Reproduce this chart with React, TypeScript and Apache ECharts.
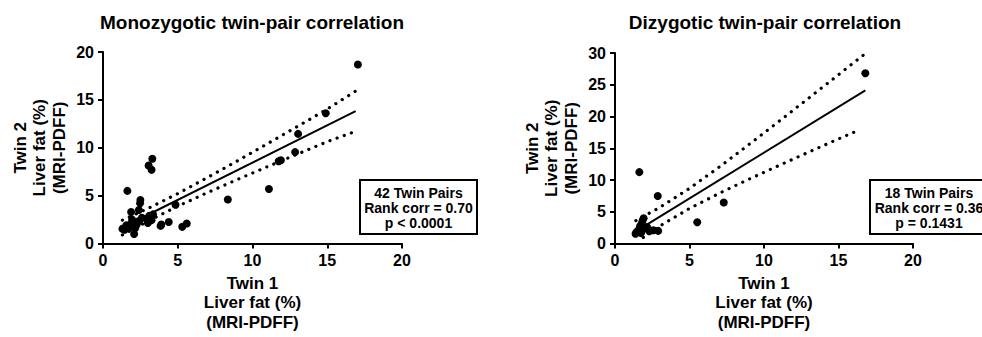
import React, { useEffect, useRef } from "react";
import * as echarts from "echarts";

// Monozygotic twin pairs (Twin 1 vs Twin 2 liver fat, %)
const mzTwin1 = [17.05, 14.9, 13.05, 12.85, 11.75, 11.9, 11.1, 8.35, 3.3, 3.05, 3.25, 1.63, 2.5, 2.48, 4.85, 2.4, 1.88, 3.35, 3.1, 3.25, 3.0, 3.85, 3.9, 4.4, 5.3, 5.6, 2.08, 1.3, 1.45, 1.6, 1.75, 1.85, 2.0, 2.1, 2.25, 2.4, 1.95, 2.6, 2.9, 1.55, 2.15, 3.2];
const mzTwin2 = [18.7, 13.6, 11.45, 9.55, 8.6, 8.7, 5.7, 4.6, 8.85, 8.15, 7.7, 5.5, 4.55, 4.2, 4.05, 3.5, 3.3, 3.05, 2.9, 2.45, 2.15, 1.85, 2.0, 2.25, 1.75, 2.1, 1.0, 1.55, 1.45, 1.8, 1.65, 2.05, 1.85, 2.2, 2.0, 2.35, 2.5, 2.7, 2.6, 1.9, 1.6, 2.8];
const mzFitX = [1.3, 16.9];
const mzFitY = [1.68, 13.82];
const mzBandX = [1.3, 3, 5, 7, 9, 11, 13, 15, 16.9];
const mzBandUpper = [2.45, 3.66, 5.22, 6.91, 8.64, 10.43, 12.22, 14.04, 15.92];
const mzBandLower = [0.91, 2.34, 3.9, 5.33, 6.7, 8.03, 9.34, 10.64, 11.72];

// Dizygotic twin pairs
const dzTwin1 = [16.8, 1.63, 2.87, 7.3, 5.52, 1.92, 1.85, 1.78, 1.68, 1.6, 1.45, 1.38, 2.0, 2.3, 2.57, 2.9, 1.75, 2.15];
const dzTwin2 = [26.8, 11.25, 7.48, 6.48, 3.36, 4.0, 3.6, 3.1, 2.75, 2.2, 1.85, 1.55, 2.4, 1.95, 2.1, 2.0, 1.65, 2.6];
const dzFitX = [1.4, 16.8];
const dzFitY = [1.92, 24.13];
const dzBandUpperX = [1.4, 3, 5, 7, 9, 11, 13, 15, 16.8];
const dzBandUpper = [3.62, 5.69, 8.69, 12.06, 15.61, 19.23, 22.9, 26.58, 29.91];
const dzBandLowerX = [1.9, 3, 5, 7, 9, 11, 13, 15, 16.4];
const dzBandLower = [0.95, 2.77, 5.53, 7.92, 10.15, 12.29, 14.4, 16.48, 17.9];

const titles = ["Monozygotic twin-pair correlation", "Dizygotic twin-pair correlation"];
const xName = "Twin 1\nLiver fat (%)\n(MRI-PDFF)";
const yName = "Twin 2\nLiver fat (%)\n(MRI-PDFF)";
const boxTexts = ["42 Twin Pairs\nRank corr = 0.70\np < 0.0001", "18 Twin Pairs\nRank corr = 0.36\np = 0.1431"];
const xTicks = { min: 0, max: 20, interval: 5 };
const yTicksMZ = { min: 0, max: 20, interval: 5 };
const yTicksDZ = { min: 0, max: 30, interval: 5 };

const FONT = "'Liberation Sans', Arial, Helvetica, sans-serif";

const zip = (xs: number[], ys: number[]) => xs.map((x, i) => [x, ys[i]]);

export default function App() {
  const ref = useRef<HTMLDivElement>(null);
  useEffect(() => {
    if (!ref.current) return;
    const chart = echarts.init(ref.current, null, { renderer: "svg" });

    const axisCommon = {
      type: "value" as const,
      splitLine: { show: false },
      axisLine: { show: true, lineStyle: { color: "#000", width: 2 } },
      axisTick: { show: true, length: 5, lineStyle: { color: "#000", width: 2 } },
      axisLabel: { color: "#000", fontSize: 16, fontWeight: "bold", fontFamily: FONT, margin: 9 },
      nameLocation: "middle" as const,
      nameTextStyle: { color: "#000", fontSize: 17, fontWeight: "bold", fontFamily: FONT, lineHeight: 19.5 },
    };

    const xAxisFor = (gi: number) => ({
      ...axisCommon,
      gridIndex: gi,
      ...xTicks,
      name: xName,
      nameGap: 27,
    });
    const yAxisFor = (gi: number, t: { min: number; max: number; interval: number }) => ({
      ...axisCommon,
      gridIndex: gi,
      ...t,
      name: yName,
      nameGap: 34,
      nameRotate: 90,
    });

    const dotted = { color: "#000", width: 3.2, type: [0.1, 7.5], cap: "round" };
    const solid = { color: "#000", width: 2 };

    const lineSeries = (name: string, gi: number, data: number[][], style: any) => ({
      name,
      type: "line" as const,
      xAxisIndex: gi,
      yAxisIndex: gi,
      data,
      showSymbol: false,
      symbol: "none",
      lineStyle: style,
      silent: true,
      z: 1,
    });

    const scatter = (name: string, gi: number, data: number[][]) => ({
      name,
      type: "scatter" as const,
      xAxisIndex: gi,
      yAxisIndex: gi,
      data,
      symbol: "circle",
      symbolSize: 8,
      itemStyle: { color: "#000", opacity: 1 },
      z: 3,
    });

    const box = (x: number, w: number, text: string) => ({
      type: "group",
      children: [
        {
          type: "rect",
          shape: { x, y: 180, width: w, height: 54 },
          style: { fill: "#fff", stroke: "#000", lineWidth: 2 },
        },
        {
          type: "text",
          x: x + w / 2,
          y: 207.5,
          style: {
            text,
            fill: "#000",
            fontSize: 14,
            fontWeight: "bold",
            fontFamily: FONT,
            lineHeight: 15,
            align: "center",
            verticalAlign: "middle",
          },
        },
      ],
    });

    const titleText = (x: number, text: string) => ({
      type: "text",
      x,
      y: 22,
      style: {
        text,
        fill: "#000",
        fontSize: 19,
        fontWeight: "bold",
        fontFamily: FONT,
        align: "center",
        verticalAlign: "middle",
      },
    });

    chart.setOption({
      animation: false,
      backgroundColor: "#fff",
      grid: [
        { left: 103, top: 52, width: 299, height: 199 },
        { left: 615, top: 53, width: 298, height: 199 },
      ],
      xAxis: [xAxisFor(0), xAxisFor(1)],
      yAxis: [yAxisFor(0, yTicksMZ), yAxisFor(1, yTicksDZ)],
      series: [
        lineSeries("MZ upper 95% band", 0, zip(mzBandX, mzBandUpper), dotted),
        lineSeries("MZ lower 95% band", 0, zip(mzBandX, mzBandLower), dotted),
        lineSeries("MZ fit", 0, zip(mzFitX, mzFitY), solid),
        scatter("MZ pairs", 0, zip(mzTwin1, mzTwin2)),
        lineSeries("DZ upper 95% band", 1, zip(dzBandUpperX, dzBandUpper), dotted),
        lineSeries("DZ lower 95% band", 1, zip(dzBandLowerX, dzBandLower), dotted),
        lineSeries("DZ fit", 1, zip(dzFitX, dzFitY), solid),
        scatter("DZ pairs", 1, zip(dzTwin1, dzTwin2)),
      ],
      graphic: [
        titleText(252, titles[0]),
        titleText(765, titles[1]),
        box(360, 117, boxTexts[0]),
        box(870, 118, boxTexts[1]),
      ],
    });

    return () => chart.dispose();
  }, []);

  return (
    <div
      ref={ref}
      style={{ position: "fixed", left: 0, top: 0, width: 982, height: 337, background: "#fff" }}
    />
  );
}
